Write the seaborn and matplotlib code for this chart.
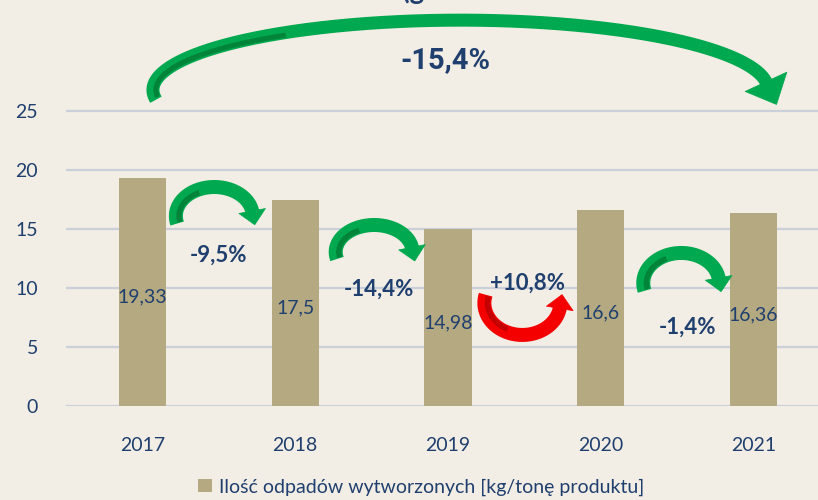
import numpy as np
import pandas as pd
import matplotlib
matplotlib.use("Agg")
import matplotlib.pyplot as plt
from matplotlib.patches import Polygon, Patch
from matplotlib.transforms import IdentityTransform
import seaborn as sns

# ---------------- data ----------------
years = ["2017", "2018", "2019", "2020", "2021"]
values = [19.33, 17.5, 14.98, 16.6, 16.36]
value_labels = ["19,33", "17,5", "14,98", "16,6", "16,36"]
change_labels = ["-9,5%", "-14,4%", "+10,8%", "-1,4%"]
total_change_label = "-15,4%"
series_name = "Ilość odpadów wytworzonych [kg/tonę produktu]"
yticks = [0, 5, 10, 15, 20, 25]

# ---------------- style ----------------
BG = "#f3eee5"
BAR = "#b4a981"
BLUE = "#1f3f6e"
GRID = "#c9d0da"
GREEN = "#00a84f"
GREEN_D = "#00843a"
RED = "#f40000"
RED_D = "#c40000"

sns.set_theme(style="white")
plt.rcParams["font.family"] = ["Lato", "DejaVu Sans"]

W, H = 818, 500
fig = plt.figure(figsize=(W / 100, H / 100), dpi=100, facecolor=BG)
ax = fig.add_axes([66 / W, 94 / H, 1 - 66 / W, 406 / H])
ax.set_facecolor(BG)

df = pd.DataFrame({"year": years, "value": values})
sns.barplot(data=df, x="year", y="value", color=BAR, saturation=1,
            width=0.31, ax=ax, zorder=2, linewidth=0, edgecolor=BAR)

ax.set_xlim(-0.5, (W - 141.5) / 153)
ax.set_ylim(0, 406 / 11.8)
ax.set_yticks(yticks)
ax.set_yticklabels([str(t) for t in yticks])
ax.grid(axis="y", color=GRID, lw=1.6, zorder=0)
ax.grid(axis="x", visible=False)
ax.set_axisbelow(True)
for s in ax.spines.values():
    s.set_visible(False)
ax.set_xlabel("")
ax.set_ylabel("")
ax.tick_params(axis="both", length=0, labelcolor=BLUE, labelsize=14)
ax.tick_params(axis="y", pad=20)
ax.tick_params(axis="x", pad=22)

# value labels inside bars
for i, (v, lab) in enumerate(zip(values, value_labels)):
    ax.text(i, v / 2 - 0.45, lab, ha="center", va="center",
            color=BLUE, fontsize=14, zorder=4)


# ---------------- curved arrows ----------------
def arc_arrow(xl, xr, yc, ytop, color, dark, lw_px, head_w, head_len,
              th0=195, th1=8, stripe_to=115):
    T = ax.transData
    pl = T.transform((xl, yc))
    pr = T.transform((xr, yc))
    pt = T.transform(((xl + xr) / 2, ytop))
    cx = (pl[0] + pr[0]) / 2
    cy = pl[1]
    a = (pr[0] - pl[0]) / 2
    b = pt[1] - cy
    th = np.radians(np.linspace(th0, th1, 300))
    px = cx + a * np.cos(th)
    py = cy + b * np.sin(th)
    lw_pt = lw_px * 72 / 100
    ln = plt.Line2D(px, py, transform=IdentityTransform(), color=color,
                    lw=lw_pt, solid_capstyle="butt", zorder=6)
    fig.add_artist(ln)
    # dark stripe on inner side
    sgn = np.sign(b)
    off = lw_px * 0.22
    th2 = np.radians(np.linspace(th0 - 2, stripe_to, 200))
    sx = cx + (a - off) * np.cos(th2)
    sy = cy + (b - sgn * off) * np.sin(th2)
    st = plt.Line2D(sx, sy, transform=IdentityTransform(), color=dark,
                    lw=lw_pt * 0.38, solid_capstyle="butt", zorder=7)
    fig.add_artist(st)
    # head
    t1 = np.radians(th1)
    ex, ey = px[-1], py[-1]
    ux, uy = a * np.sin(t1), -b * np.cos(t1)
    nrm = np.hypot(ux, uy)
    ux, uy = ux / nrm, uy / nrm
    nx, ny = -uy, ux
    bx, by = ex - ux * 1.0, ey - uy * 1.0
    head = Polygon([[bx + nx * head_w / 2, by + ny * head_w / 2],
                    [ex + ux * head_len, ey + uy * head_len],
                    [bx - nx * head_w / 2, by - ny * head_w / 2]],
                   closed=True, transform=IdentityTransform(),
                   facecolor=color, edgecolor=color, lw=0.5, zorder=6,
                   joinstyle="round")
    fig.add_artist(head)


# small arrows between neighbouring bars (xl, xr, yc, ytop)
arrow_specs = [
    (0.219, 0.722, 16.1, 18.56, GREEN, GREEN_D),
    (1.265, 1.768, 13.05, 15.34, GREEN, GREEN_D),
    (2.238, 2.735, 8.73, 6.02, RED, RED_D),
    (3.278, 3.775, 10.42, 12.97, GREEN, GREEN_D),
]
for xl, xr, yc, yt, c, d in arrow_specs:
    arc_arrow(xl, xr, yc, yt, c, d, lw_px=14, head_w=27, head_len=13)

# big arrow 2017 -> 2021
arc_arrow(0.069, 4.095, 26.78, 32.7, GREEN, GREEN_D, lw_px=13,
          head_w=46, head_len=24, th0=188, th1=6, stripe_to=125)

# change labels
label_pos = [(0.50, 12.8), (1.546, 9.92), (2.52, 10.42), (3.565, 6.69)]
for (x, y), lab in zip(label_pos, change_labels):
    ax.text(x, y, lab, ha="center", va="center", color=BLUE,
            fontsize=16, fontweight="bold", zorder=8)
ax.text(1.984, 29.3, total_change_label, ha="center", va="center",
        color=BLUE, fontsize=21, fontweight="bold",
        family=["Roboto", "DejaVu Sans"], zorder=8)

# cut-off title fragment at the very top (as in the reference)
fig.text(413 / W, 1 + 1.5 / H, "(g", ha="center", va="baseline",
         color=BLUE, fontsize=20, fontweight="bold")

# legend
fig.legend(handles=[Patch(facecolor=BAR, edgecolor="none")],
           labels=[series_name], loc="center",
           bbox_to_anchor=(421 / W, 13 / H), frameon=False, fontsize=14,
           labelcolor=BLUE, handlelength=0.7, handleheight=0.7,
           handletextpad=0.35)

fig.savefig("out.png", dpi=100, facecolor=BG)
